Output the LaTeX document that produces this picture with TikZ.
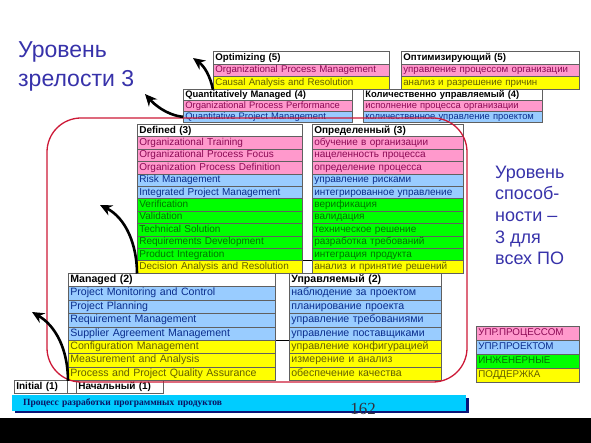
\documentclass[tikz,border=0pt]{standalone}
\usepackage{fontspec}
\setmainfont{Liberation Sans}
\newfontfamily\serifface{Liberation Serif}
\usetikzlibrary{arrows.meta}
\definecolor{pinkfill}{RGB}{255,153,204}
\definecolor{bluefill}{RGB}{153,204,255}
\definecolor{greenfill}{RGB}{0,255,0}
\definecolor{yellowfill}{RGB}{255,255,0}
\definecolor{pinktext}{RGB}{140,10,85}
\definecolor{bluetext}{RGB}{10,45,140}
\definecolor{greentext}{RGB}{0,115,0}
\definecolor{yellowtext}{RGB}{100,95,0}
\definecolor{cellborder}{RGB}{96,96,96}
\definecolor{redframe}{RGB}{205,25,55}
\definecolor{titleblue}{RGB}{55,50,170}
\definecolor{barcyan}{RGB}{0,204,255}
\definecolor{barshadow}{RGB}{10,20,120}
\definecolor{bartext}{RGB}{10,20,100}
\definecolor{numgray}{RGB}{50,50,60}
\def\tfont{\fontsize{10}{12}\selectfont}
\def\tabset#1#2#3#4{\def\tbx{#1}\def\tby{#2}\def\tbh{#3}\def\tbw{#4}}
\newcommand\trow[4]{%
  \pgfmathsetmacro\trowy{\tby+#2*\tbh}%
  \pgfmathsetmacro\trowtw{\tbw-4}%
  \node[cellbox,#3,minimum width=\tbw pt,minimum height=\tbh pt,text width=\trowtw pt] (#1) at (\tbx,\trowy) {#4};}
\tikzset{
  cellbox/.style={draw=cellborder, line width=0.7pt, anchor=north west, inner xsep=2pt, inner ysep=0pt,
    align=left, text height=7pt, text depth=2pt, font=\tfont},
  rowhd/.style={fill=white, text=black, font=\tfont\bfseries},
  rowpk/.style={fill=pinkfill, text=pinktext},
  rowbl/.style={fill=bluefill, text=bluetext},
  rowgr/.style={fill=greenfill, text=greentext},
  rowyl/.style={fill=yellowfill, text=yellowtext},
  levelarrow/.style={line width=2.6pt, black, -{Stealth[length=12pt,width=11pt]}},
  bigtitle/.style={text=titleblue, inner sep=0pt, align=left},
}
\begin{document}
\begin{tikzpicture}[x=1pt,y=-1pt]
\useasboundingbox (0,0) rectangle (591,443);
\fill[white] (0,0) rectangle (591,443);
\fill[black] (0,418) rectangle (591,443);

% titles (base anchor = baseline of the last line)
\node[bigtitle, anchor=base west, font=\fontsize{23}{29}\selectfont] (title) at (18,87) {Уровень\\зрелости 3};
\node[bigtitle, anchor=base west, font=\fontsize{18}{21.7}\selectfont] (caplevel) at (495,265) {Уровень\\способ-\\ности –\\3 для\\всех ПО};

% Optimizing (5)
\def\tfont{\fontsize{9.7}{11}\selectfont}
\tabset{213}{51}{12.7}{176}
\trow{ol0}{0}{rowhd}{Optimizing (5)}
\trow{ol1}{1}{rowpk}{Organizational Process Management}
\trow{ol2}{2}{rowyl}{Causal Analysis and Resolution}
\tabset{401}{51}{12.7}{178}
\trow{or0}{0}{rowhd}{Оптимизирующий (5)}
\trow{or1}{1}{rowpk}{управление процессом организации}
\trow{or2}{2}{rowyl}{анализ и разрешение причин}

% Quantitatively Managed (4)
\def\tfont{\fontsize{9.4}{11}\selectfont}
\tabset{183}{89}{11}{169}
\trow{ql0}{0}{rowhd}{Quantitatively Managed (4)}
\trow{ql1}{1}{rowpk}{Organizational Process Performance}
\trow{ql2}{2}{rowbl}{Quantitative Project Management}
\tabset{363}{89}{11}{179}
\trow{qr0}{0}{rowhd}{Количественно управляемый (4)}
\trow{qr1}{1}{rowpk}{исполнение процесса организации}
\trow{qr2}{2}{rowbl}{количественное управление проектом}

% Defined (3)
\def\tfont{\fontsize{10}{12}\selectfont}
\tabset{137}{124}{12.4}{165}
\trow{dl0}{0}{rowhd}{Defined (3)}
\trow{dl1}{1}{rowpk}{Organizational Training}
\trow{dl2}{2}{rowpk}{Organizational Process Focus}
\trow{dl3}{3}{rowpk}{Organization Process Definition}
\trow{dl4}{4}{rowbl}{Risk Management}
\trow{dl5}{5}{rowbl}{Integrated Project Management}
\trow{dl6}{6}{rowgr}{Verification}
\trow{dl7}{7}{rowgr}{Validation}
\trow{dl8}{8}{rowgr}{Technical Solution}
\trow{dl9}{9}{rowgr}{Requirements Development}
\trow{dl10}{10}{rowgr}{Product Integration}
\trow{dl11}{11}{rowyl}{Decision Analysis and Resolution}
\tabset{312}{124}{12.4}{151}
\trow{dr0}{0}{rowhd}{Определенный (3)}
\trow{dr1}{1}{rowpk}{обучение в организации}
\trow{dr2}{2}{rowpk}{нацеленность процесса}
\trow{dr3}{3}{rowpk}{определение процесса}
\trow{dr4}{4}{rowbl}{управление рисками}
\trow{dr5}{5}{rowbl}{интегрированное управление}
\trow{dr6}{6}{rowgr}{верификация}
\trow{dr7}{7}{rowgr}{валидация}
\trow{dr8}{8}{rowgr}{техническое решение}
\trow{dr9}{9}{rowgr}{разработка требований}
\trow{dr10}{10}{rowgr}{интеграция продукта}
\trow{dr11}{11}{rowyl}{анализ и принятие решений}
\draw[black, line width=0.7pt] (dl11.north east) -- (dr11.north west);

% Managed (2)
\def\tfont{\fontsize{10.6}{12}\selectfont}
\tabset{68}{273}{13.4}{207}
\trow{ml0}{0}{rowhd}{Managed (2)}
\trow{ml1}{1}{rowbl}{Project Monitoring and Control}
\trow{ml2}{2}{rowbl}{Project Planning}
\trow{ml3}{3}{rowbl}{Requirement Management}
\trow{ml4}{4}{rowbl}{Supplier Agreement Management}
\trow{ml5}{5}{rowyl}{Configuration Management}
\trow{ml6}{6}{rowyl}{Measurement and Analysis}
\trow{ml7}{7}{rowyl}{Process and Project Quality Assurance}
\tabset{289}{273}{13.4}{152}
\trow{mr0}{0}{rowhd}{Управляемый (2)}
\trow{mr1}{1}{rowbl}{наблюдение за проектом}
\trow{mr2}{2}{rowbl}{планирование проекта}
\trow{mr3}{3}{rowbl}{управление требованиями}
\trow{mr4}{4}{rowbl}{управление поставщиками}
\trow{mr5}{5}{rowyl}{управление конфигурацией}
\trow{mr6}{6}{rowyl}{измерение и анализ}
\trow{mr7}{7}{rowyl}{обеспечение качества}
\draw[black, line width=0.7pt] (ml5.north east) -- (mr5.north west);

% Initial (1)
\def\tfont{\fontsize{10}{12}\selectfont}
\tabset{14}{380}{13}{53}
\trow{il0}{0}{rowhd}{Initial (1)}
\tabset{67}{380}{13}{9}
\trow{igap}{0}{fill=white}{}
\tabset{76}{380}{13}{87}
\trow{ir0}{0}{rowhd}{Начальный (1)}

% legend
\def\tfont{\fontsize{9.8}{11}\selectfont}
\tabset{476}{326}{14}{103}
\trow{lg0}{0}{rowpk}{УПР.ПРОЦЕССОМ}
\trow{lg1}{1}{rowbl}{УПР.ПРОЕКТОМ}
\trow{lg2}{2}{rowgr}{ИНЖЕНЕРНЫЕ}
\trow{lg3}{3}{rowyl}{ПОДДЕРЖКА}

% red frame around level 3
\draw[redframe, line width=1.3pt, rounded corners=34pt] (47,118) rectangle (467,382);

% arrows between levels
\coordinate (tip1) at (193,58);
\coordinate (tip2) at (145,94);
\coordinate (tip3) at (100,205);
\coordinate (tip4) at (32,312);
\draw[levelarrow] (ol2.south west) .. controls (210,75) and (204,66) .. (tip1);
\draw[levelarrow] (ql2.west) .. controls (166,115) and (154,104) .. (tip2);
\draw[levelarrow] (dl11.south west) .. controls (137,245) and (126,218) .. (tip3);
\draw[levelarrow] (ml7.south west) .. controls (68,350) and (56,326) .. (tip4);

% bottom bar
\fill[barshadow] (15,398) rectangle (469,413);
\node[fill=barcyan, anchor=north west, minimum width=454pt, minimum height=16pt, inner xsep=11pt, inner ysep=0pt,
  text width=432pt, align=left, text=bartext, font=\serifface\bfseries\fontsize{9.5}{11}\selectfont] (bar) at (12,395)
  {Процесс разработки программных продуктов};
\node[font=\serifface\fontsize{17}{18}\selectfont, text=numgray, inner sep=0pt] (pagenum) at (363,409) {162};
\end{tikzpicture}
\end{document}
